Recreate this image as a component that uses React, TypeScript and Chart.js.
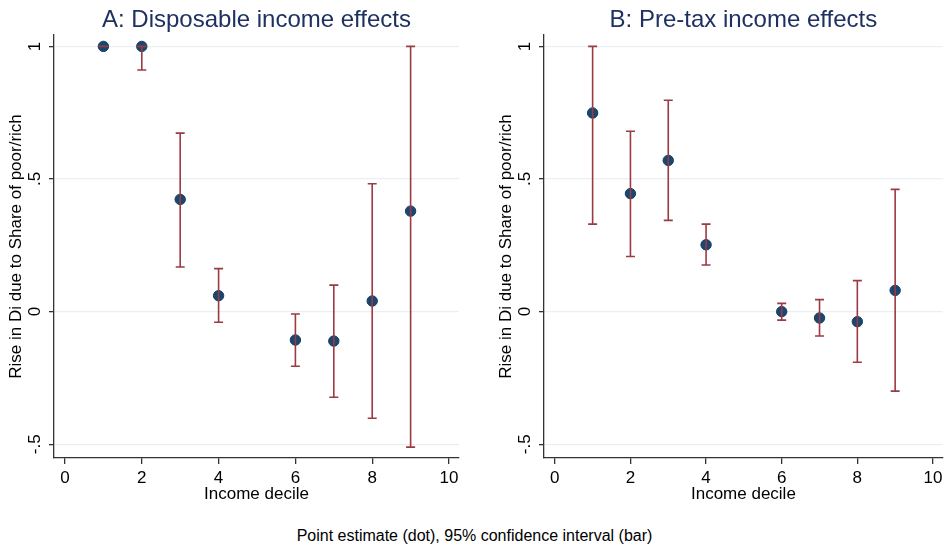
import React, { useEffect, useRef } from "react";
import { Chart, registerables } from "chart.js";

Chart.register(...registerables);

const deciles = [1, 2, 3, 4, 6, 7, 8, 9];

const dispPoint = [1.0, 1.0, 0.423, 0.06, -0.107, -0.111, 0.04, 0.379];
const dispLower = [1.0, 0.911, 0.168, -0.04, -0.206, -0.323, -0.402, -0.511];
const dispUpper = [1.0, 1.0, 0.673, 0.162, -0.009, 0.1, 0.482, 1.0];

const preTaxPoint = [0.749, 0.445, 0.57, 0.252, 0.0, -0.024, -0.038, 0.08];
const preTaxLower = [0.33, 0.208, 0.344, 0.176, -0.032, -0.092, -0.191, -0.3];
const preTaxUpper = [1.0, 0.68, 0.797, 0.33, 0.031, 0.045, 0.117, 0.461];

const yTicks = [-0.5, 0, 0.5, 1];
const yTickLabels = ["-.5", "0", ".5", "1"];
const xTicks = [0, 2, 4, 6, 8, 10];

const FONT = "'Liberation Sans', Arial, Helvetica, sans-serif";
const NAVY = "#1a476f";
const MAROON = "#9b3a42";
const CANVAS_H = 505;

function makeErrorBarPlugin(lower: number[], upper: number[]) {
  return {
    id: "errbars",
    afterDatasetsDraw(chart: any) {
      const ctx = chart.ctx;
      const xs = chart.scales.x;
      const ys = chart.scales.y;
      ctx.save();
      ctx.strokeStyle = MAROON;
      ctx.lineWidth = 1.6;
      const cap = 4.5;
      deciles.forEach((d, i) => {
        const x = xs.getPixelForValue(d);
        const y1 = ys.getPixelForValue(lower[i]);
        const y2 = ys.getPixelForValue(upper[i]);
        ctx.beginPath();
        ctx.moveTo(x, y1);
        ctx.lineTo(x, y2);
        ctx.moveTo(x - cap, y1);
        ctx.lineTo(x + cap, y1);
        ctx.moveTo(x - cap, y2);
        ctx.lineTo(x + cap, y2);
        ctx.stroke();
      });
      ctx.restore();
    },
  };
}

const rotatedYTicksPlugin = {
  id: "rotYTicks",
  afterDraw(chart: any) {
    const ctx = chart.ctx;
    const ys = chart.scales.y;
    ctx.save();
    ctx.fillStyle = "#000";
    ctx.font = `17px ${FONT}`;
    ctx.textAlign = "center";
    ctx.textBaseline = "middle";
    yTicks.forEach((v, i) => {
      const y = ys.getPixelForValue(v);
      ctx.save();
      ctx.translate(ys.right - 19, y);
      ctx.rotate(-Math.PI / 2);
      ctx.fillText(yTickLabels[i], 0, 0);
      ctx.restore();
    });
    ctx.restore();
  },
};

function makeTitlePlugin(text: string) {
  return {
    id: "panelTitle",
    afterDraw(chart: any) {
      const ctx = chart.ctx;
      const area = chart.chartArea;
      ctx.save();
      ctx.fillStyle = "#1e3160";
      ctx.font = `24px ${FONT}`;
      ctx.textAlign = "center";
      ctx.textBaseline = "alphabetic";
      ctx.fillText(text, (area.left + area.right) / 2, 27);
      ctx.restore();
    },
  };
}

function Panel(props: {
  title: string;
  point: number[];
  lower: number[];
  upper: number[];
  left: number;
  width: number;
  padRight: number;
}) {
  const ref = useRef<HTMLCanvasElement | null>(null);
  useEffect(() => {
    if (!ref.current) return;
    const chart = new Chart(ref.current, {
      type: "scatter",
      data: {
        datasets: [
          {
            data: deciles.map((d, i) => ({ x: d, y: props.point[i] })),
            backgroundColor: NAVY,
            borderColor: "#163c5e",
            borderWidth: 1,
            pointRadius: 5.2,
            pointHoverRadius: 5.2,
          },
        ],
      },
      options: {
        animation: false,
        responsive: false,
        maintainAspectRatio: false,
        layout: { padding: { left: 6, right: props.padRight, top: 35, bottom: 0 } },
        plugins: {
          legend: { display: false },
          tooltip: { enabled: false },
          title: { display: false },
        },
        scales: {
          x: {
            type: "linear",
            min: -0.286,
            max: 10.26,
            afterBuildTicks: (s: any) => {
              s.ticks = xTicks.map((v) => ({ value: v }));
            },
            afterFit: (s: any) => {
              s.height = CANVAS_H - 458;
            },
            ticks: {
              color: "#000",
              font: { family: FONT, size: 17 },
              padding: 4,
              maxRotation: 0,
              callback: (v: any) => String(v),
            },
            grid: {
              drawOnChartArea: false,
              drawTicks: true,
              tickLength: 6,
              tickColor: "#333",
              lineWidth: 1.3,
            },
            border: { display: true, color: "#333", width: 1.3 },
            title: {
              display: true,
              text: "Income decile",
              color: "#000",
              font: { family: FONT, size: 17 },
              padding: { top: 0, bottom: 0 },
            },
          },
          y: {
            type: "linear",
            min: -0.552,
            max: 1.043,
            afterBuildTicks: (s: any) => {
              s.ticks = yTicks.map((v) => ({ value: v }));
            },
            afterFit: (s: any) => {
              s.width = 48;
            },
            ticks: {
              display: false,
            },
            grid: {
              color: "#e8f0f2",
              lineWidth: 1.3,
              drawTicks: true,
              tickLength: 5,
              tickColor: "#333",
            },
            border: { display: true, color: "#333", width: 1.3 },
            title: {
              display: true,
              text: "Rise in Di due to Share of poor/rich",
              color: "#000",
              font: { family: FONT, size: 17 },
              padding: { top: 0, bottom: 0 },
            },
          },
        },
      },
      plugins: [
        makeErrorBarPlugin(props.lower, props.upper),
        rotatedYTicksPlugin,
        makeTitlePlugin(props.title),
      ],
    } as any);
    return () => chart.destroy();
  }, []);
  return (
    <div style={{ position: "absolute", left: props.left, top: 0, width: props.width, height: CANVAS_H }}>
      <canvas ref={ref} width={props.width} height={CANVAS_H} style={{ width: props.width, height: CANVAS_H }} />
    </div>
  );
}

export default function App() {
  return (
    <div
      style={{
        position: "fixed",
        left: 0,
        top: 0,
        width: 949,
        height: 547,
        background: "#fff",
        overflow: "hidden",
      }}
    >
      <Panel
        title="A: Disposable income effects"
        point={dispPoint}
        lower={dispLower}
        upper={dispUpper}
        left={0}
        width={475}
        padRight={16}
      />
      <Panel
        title="B: Pre-tax income effects"
        point={preTaxPoint}
        lower={preTaxLower}
        upper={preTaxUpper}
        left={490}
        width={459}
        padRight={0}
      />
      <div
        style={{
          position: "absolute",
          left: 0,
          width: 949,
          top: 527,
          textAlign: "center",
          fontFamily: FONT,
          fontSize: 16,
          color: "#000",
          lineHeight: "18px",
        }}
      >
        Point estimate (dot), 95% confidence interval (bar)
      </div>
    </div>
  );
}
